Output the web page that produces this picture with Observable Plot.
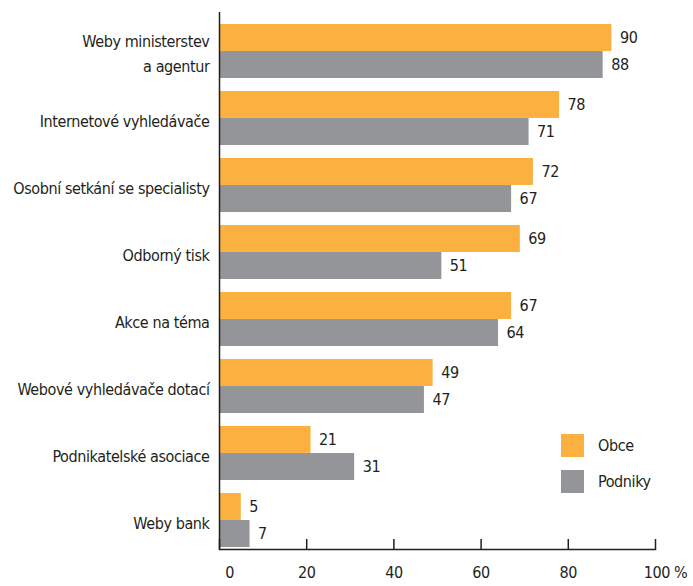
<!DOCTYPE html>
<html>
<head>
<meta charset="utf-8">
<script src="https://cdn.jsdelivr.net/npm/d3@7"></script>
<script src="https://cdn.jsdelivr.net/npm/@observablehq/plot@0.6"></script>
<style>
  body { margin: 0; background: #fff; }
  #wrap { position: relative; width: 693px; height: 586px; font-family: "DejaVu Sans Condensed", "Liberation Sans Narrow", sans-serif; }
  .legend { position: absolute; left: 561px; top: 434px; font-size: 16px; letter-spacing: -0.4px; color: #231F20; }
  .legend .item { display: flex; align-items: center; height: 23px; margin-bottom: 13px; }
  .legend .sw { width: 23px; height: 23px; margin-right: 14px; }
</style>
</head>
<body>
<div id="wrap"></div>
<script>
const categories = [
  "Weby ministerstev\na agentur",
  "Internetové vyhledávače",
  "Osobní setkání se specialisty",
  "Odborný tisk",
  "Akce na téma",
  "Webové vyhledávače dotací",
  "Podnikatelské asociace",
  "Weby bank"
];
const obce = [90, 78, 72, 69, 67, 49, 21, 5];
const podniky = [88, 71, 67, 51, 64, 47, 31, 7];
const seriesNames = ["Obce", "Podniky"];
const xTicks = [0, 20, 40, 60, 80, 100];
const colors = ["#FBB040", "#939598"];

const W = 693, H = 586, mT = 22, mB = 37, mL = 219, mR = 38;
const plotH = H - mT - mB;
const padInner = 0.2;
const step = plotH / (categories.length - padInner);
const bw = step * (1 - padInner);
const half = bw / 2;

const data = categories.map((c, i) => ({cat: c, obce: obce[i], podniky: podniky[i]}));
const ink = "#231F20";

const chart = Plot.plot({
  width: W, height: H,
  marginTop: mT, marginBottom: mB, marginLeft: mL, marginRight: mR,
  style: {fontFamily: "'DejaVu Sans Condensed', 'Liberation Sans Narrow', sans-serif", fontSize: "16px", letterSpacing: "-0.4px", color: ink, background: "#fff"},
  x: {domain: [0, 100]},
  y: {domain: categories, paddingInner: padInner, paddingOuter: 0},
  marks: [
    Plot.barX(data, {x: "obce", y: "cat", fill: colors[0], insetBottom: half}),
    Plot.barX(data, {x: "podniky", y: "cat", fill: colors[1], insetTop: half}),
    Plot.text(data, {x: "obce", y: "cat", text: d => String(d.obce), dx: 8, dy: -bw / 4, textAnchor: "start", fill: ink}),
    Plot.text(data, {x: "podniky", y: "cat", text: d => String(d.podniky), dx: 8, dy: bw / 4, textAnchor: "start", fill: ink}),
    Plot.ruleX([0], {stroke: ink, strokeWidth: 1.5, insetTop: -10}),
    Plot.frame({anchor: "bottom", stroke: ink, strokeWidth: 1.5}),
    Plot.ruleX(xTicks, {stroke: ink, strokeWidth: 1.5, insetTop: plotH - 10}),
    Plot.axisY({tickSize: 0, tickPadding: 10, lineHeight: 1.6, fill: ink, label: null}),
    Plot.axisX([20, 40, 60, 80], {tickSize: 0, tickPadding: 17, fill: ink, label: null}),
    Plot.axisX([0, 100], {tickSize: 0, tickPadding: 17, dx: 10, fill: ink, label: null, tickFormat: d => d === 100 ? "100 %" : String(d)})
  ]
});

const wrap = document.getElementById("wrap");
wrap.appendChild(chart);
const legend = document.createElement("div");
legend.className = "legend";
seriesNames.forEach((s, i) => {
  const item = document.createElement("div");
  item.className = "item";
  const sw = document.createElement("div");
  sw.className = "sw";
  sw.style.background = colors[i];
  const t = document.createElement("span");
  t.textContent = s;
  item.appendChild(sw);
  item.appendChild(t);
  legend.appendChild(item);
});
wrap.appendChild(legend);
</script>
</body>
</html>
